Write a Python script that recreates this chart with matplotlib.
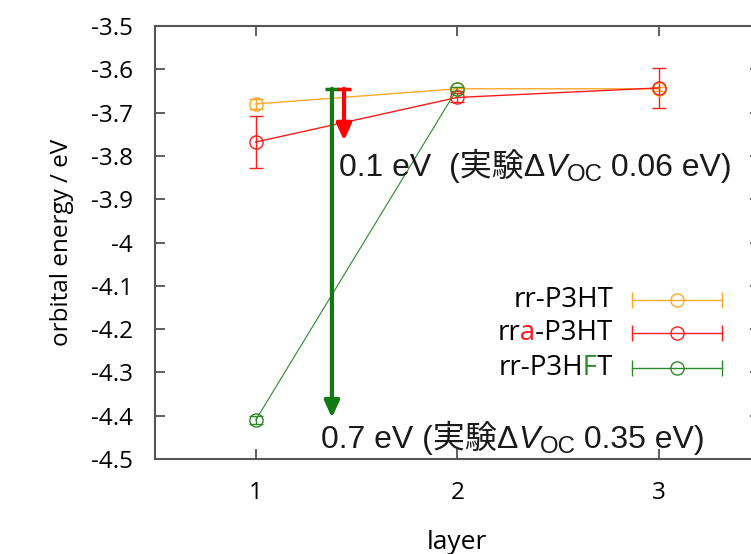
import matplotlib.pyplot as plt
import numpy as np
from matplotlib.font_manager import FontProperties, findfont, get_font
from matplotlib.transforms import Bbox

# orbital energies (eV) per layer
layers = [1, 2, 3]
rr_p3ht = [-3.68, -3.645, -3.645]
rr_p3ht_err = [0.012, 0.005, 0.005]
rra_p3ht = [-3.768, -3.665, -3.643]
rra_p3ht_err = [0.06, 0.01, 0.046]
hft_layers = [1, 2]
rr_p3hft = [-4.41, -3.645]
rr_p3hft_err = [0.01, 0.005]

# shift arrows: x position, start, end
arrow_x = [1.378, 1.438]
arrow_start = [-3.645, -3.645]
arrow_end = [-4.405, -3.765]

c_orange = '#ffa928'
c_red = '#ff1c1c'
c_green = '#2a8a2a'
c_arrow_green = '#117a11'
c_arrow_red = '#ff0000'

tick_font = 'Open Sans'
ann_font = ['Liberation Sans', 'Noto Sans CJK JP']
ann_size = 23
leg_size = 20

fig = plt.figure(figsize=(7.51, 5.54), dpi=100)
ax = fig.add_axes([155 / 751, 95 / 554, 604.5 / 751, 433 / 554])

eb = dict(marker='o', ms=9.5, mfc='none', mew=1, capsize=5, elinewidth=1, capthick=1, lw=1)
ax.errorbar(layers, rr_p3ht, yerr=rr_p3ht_err, color=c_orange, **eb)
ax.errorbar(layers, rra_p3ht, yerr=rra_p3ht_err, color=c_red, **eb)
ax.errorbar(hft_layers, rr_p3hft, yerr=rr_p3hft_err, color=c_green, **dict(eb, lw=0.8))

# arrows with flat top bar
for x, y0, y1, c in zip(arrow_x, arrow_start, arrow_end, [c_arrow_green, c_arrow_red]):
    ax.annotate('', xy=(x, y1), xytext=(x, y0),
                arrowprops=dict(arrowstyle='-|>,head_length=1.0,head_width=0.45', color=c, lw=3,
                                shrinkA=0, shrinkB=0))
    ax.plot([x - 0.035, x + 0.035], [y0, y0], color=c, lw=2.5, solid_capstyle='butt')

# annotation texts: lead, italic V, subscript OC, tail
for x, y, lead, tail in [(1.413, -3.846, '0.1 eV  (実験Δ', ' 0.06 eV)'),
                         (1.323, -4.475, '0.7 eV (実験Δ', ' 0.35 eV)')]:
    first = ax.text(x, y, lead, ha='left', va='baseline', fontsize=ann_size,
                    family=ann_font, color='#1a1a1a')
    v = ax.annotate('V', xy=(1, 0), xycoords=first, ha='left', va='bottom',
                    fontsize=ann_size, family=ann_font, style='italic', color='#1a1a1a')
    oc = ax.annotate('OC', xy=(1, 0), xycoords=v, xytext=(0, -2), textcoords='offset points',
                     ha='left', va='bottom', fontsize=ann_size * 0.75, family=ann_font,
                     color='#1a1a1a')
    ax.annotate(tail, xy=(1, 0), xycoords=(oc, v), ha='left', va='bottom',
                fontsize=ann_size, family=ann_font, color='#1a1a1a')

ax.set_xlim(0.5, 3.5)
ax.set_ylim(-4.5, -3.5)
ax.set_xticks(layers)
ax.set_yticks([-3.5, -3.6, -3.7, -3.8, -3.9, -4.0, -4.1, -4.2, -4.3, -4.4, -4.5])
ax.set_yticklabels(['-3.5', '-3.6', '-3.7', '-3.8', '-3.9', '-4', '-4.1', '-4.2', '-4.3',
                    '-4.4', '-4.5'])
ax.tick_params(direction='in', length=7, width=1.2, color='#444444', top=True, right=True,
               labelsize=17.5, pad=16)
for lab in ax.get_xticklabels() + ax.get_yticklabels():
    lab.set_family(tick_font)
for sp in ax.spines.values():
    sp.set_color('#555555')
    sp.set_linewidth(1.5)

ax.set_xlabel('layer', fontsize=19, family=tick_font, labelpad=18)
ax.set_ylabel('orbital energy / eV', fontsize=17.5, family=tick_font, labelpad=12)

# legend drawn by hand (gnuplot style); one letter of each label is coloured
leg_labels = ['rr-P3HT', 'rra-P3HT', 'rr-P3HFT']
leg_mark = [None, 2, 6]  # index of the coloured letter
leg_colors = [c_orange, c_red, c_green]
leg_y = [0.367, 0.291, 0.210]

renderer = fig.canvas.get_renderer()
font = get_font(findfont(FontProperties(family=tick_font)))
font.set_size(leg_size, fig.dpi)
W, H = fig.bbox.width, fig.bbox.height

for label, k, c, y in zip(leg_labels, leg_mark, leg_colors, leg_y):
    ax.plot([0.789, 0.938], [y, y], color=c, lw=1, marker='|', ms=12, mew=1,
            transform=ax.transAxes)
    ax.plot([0.8635], [y], color=c, marker='o', ms=9.5, mfc='none', mew=1,
            transform=ax.transAxes)
    cols = ['black'] if k is None else ['black', c, 'black']
    copies = [ax.text(0.7577, y, label, color=col, ha='right', va='center',
                      transform=ax.transAxes, fontsize=leg_size, family=tick_font)
              for col in cols]
    if k is None:
        continue
    # same text three times, each clipped to its own horizontal slice
    pen = np.asarray(font.set_text(label), dtype=float).reshape(-1, 2)[:, 0] / 64
    x_left = copies[0].get_window_extent(renderer).x0
    b1, b2 = x_left + pen[k], x_left + pen[k + 1]
    for t, (lo, hi) in zip(copies, [(0, b1), (b1, b2), (b2, W)]):
        t.set_clip_box(Bbox([[lo, 0], [hi, H]]))
        t.set_clip_on(True)

fig.savefig('out.png', dpi=100)
